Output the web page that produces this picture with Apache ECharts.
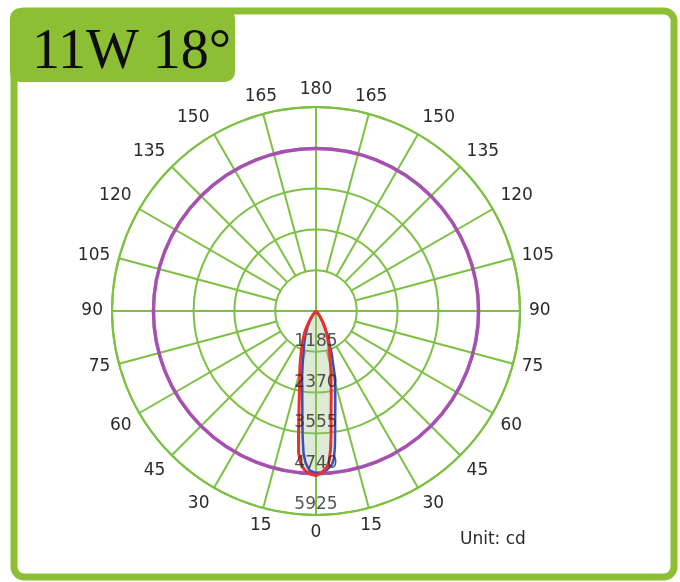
<!DOCTYPE html>
<html><head><meta charset="utf-8">
<script src="https://cdn.jsdelivr.net/npm/echarts@6/dist/echarts.min.js"></script>
<style>html,body{margin:0;padding:0;background:#fff}#c{width:680px;height:582px}</style>
</head><body><div id="c"></div>
<script>
// ---- data ----
const titleText = '11W 18\u00b0';
const unitText = 'Unit: cd';
const ringValues = [1185, 2370, 3555, 4740, 5925];
const spokeAngles = [0,15,30,45,60,75,90,105,120,135,150,165,180,195,210,225,240,255,270,285,300,315,330,345];
const angleTickLabels = ['0','15','30','45','60','75','90','105','120','135','150','165','180','165','150','135','120','105','90','75','60','45','30','15'];
const purpleValue = 4720;
// red curve: angle measured from 0 toward left side / right side
const redLeftAngles  = [0,2,4,5,6,7,8,9,10,12,14,16,18,20,24,28,32,36,40,45,50];
const redLeftValues  = [4780,4740,4640,4540,4400,4150,3650,3200,2850,2300,1950,1700,1450,1250,950,700,450,250,120,50,0];
const redRightAngles = [0,2,4,5,6,7,8,9,10,12,14,16,18,20,24,28,32,36,40,45];
const redRightValues = [4780,4700,4540,4380,4050,3600,3150,2800,2550,2100,1800,1500,1280,1100,800,550,350,180,80,0];
// blue curve
const blueLeftAngles  = [0,2,3,4,5,6,7,8,9,10,12,14,16,18,20,24,28,32,36,40,45];
const blueLeftValues  = [4700,4650,4550,4400,4150,3700,3250,2850,2550,2300,1950,1600,1350,1150,1000,750,520,330,180,80,0];
const blueRightAngles = [0,2,4,6,7,8,9,10,12,14,16,18,20,24,28,32,36,40,45];
const blueRightValues = [4700,4700,4620,4480,4300,3950,3550,3200,2700,2300,2000,1600,1350,900,600,380,200,90,0];

// ---- build ----
function curve(lA, lV, rA, rV) {
  const d = [];
  for (let i = lA.length - 1; i >= 0; i--) d.push([lV[i], lA[i]]);
  for (let i = 0; i < rA.length; i++) d.push([rV[i], 360 - rA[i]]);
  return d;
}
const redData = curve(redLeftAngles, redLeftValues, redRightAngles, redRightValues);
const blueData = curve(blueLeftAngles, blueLeftValues, blueRightAngles, blueRightValues);
const rMax = ringValues[ringValues.length - 1];
const spokeData = spokeAngles.map(a => [a % 90 === 0 ? 0 : ringValues[0], a]);

const GRID = '#7cc142';
const FRAME = '#8dbf34';
const chart = echarts.init(document.getElementById('c'));
chart.setOption({
  animation: false,
  backgroundColor: '#fff',
  polar: { center: [316, 311], radius: 204 },
  angleAxis: {
    type: 'value', min: 0, max: 360, interval: 15, startAngle: 270, clockwise: true,
    axisLine: { show: true, lineStyle: { color: GRID, width: 2 } },
    axisTick: { show: false },
    splitLine: { show: false },
    axisLabel: {
      margin: 9, color: '#2a2a2a', fontSize: 17, fontFamily: 'DejaVu Sans',
      formatter: v => { const i = spokeAngles.indexOf(v); return i >= 0 ? angleTickLabels[i] : ''; }
    }
  },
  radiusAxis: {
    type: 'value', min: 0, max: rMax, interval: ringValues[0],
    axisLine: { show: false }, axisTick: { show: false }, axisLabel: { show: false },
    splitLine: { show: true, lineStyle: { color: GRID, width: 2 } }
  },
  graphic: [
    { type: 'rect', z: 0, shape: { x: 14, y: 11, width: 660, height: 566, r: 10 },
      style: { fill: 'none', stroke: FRAME, lineWidth: 7 } },
    { type: 'rect', z: 1, shape: { x: 10, y: 8, width: 225, height: 74, r: 10 },
      style: { fill: FRAME } },
    { type: 'text', z: 2, style: { x: 32, y: 53, text: titleText, font: '56px "Liberation Serif"',
      fill: '#0d0d0d', verticalAlign: 'middle' } },
    { type: 'text', z: 2, style: { x: 460, y: 540, text: unitText, font: '17px "DejaVu Sans"',
      fill: '#2a2a2a', verticalAlign: 'middle' } }
  ],
  series: [
    { type: 'custom', coordinateSystem: 'polar', z: 1, silent: true, data: spokeData,
      renderItem: (params, api) => {
        const p1 = api.coord([api.value(0), api.value(1)]);
        const p2 = api.coord([rMax, api.value(1)]);
        return { type: 'line', shape: { x1: p1[0], y1: p1[1], x2: p2[0], y2: p2[1] },
          style: { stroke: GRID, lineWidth: 2 } };
      } },
    { type: 'line', coordinateSystem: 'polar', z: 2, data: redData, showSymbol: false,
      lineStyle: { width: 0 }, areaStyle: { color: 'rgba(150,190,125,0.45)' } },
    { type: 'custom', coordinateSystem: 'polar', z: 3, silent: true, data: [[purpleValue, 0]],
      renderItem: (params, api) => {
        const c = api.coord([0, 0]);
        const p = api.coord([api.value(0), 0]);
        return { type: 'circle', shape: { cx: c[0], cy: c[1], r: Math.hypot(p[0] - c[0], p[1] - c[1]) },
          style: { fill: 'none', stroke: '#a84fb4', lineWidth: 3.5 } };
      } },
    { type: 'line', coordinateSystem: 'polar', z: 4, data: blueData, showSymbol: false,
      lineStyle: { color: '#3a4cc0', width: 2.5 } },
    { type: 'line', coordinateSystem: 'polar', z: 5, data: redData, showSymbol: false,
      lineStyle: { color: '#e8322a', width: 3 } },
    { type: 'scatter', coordinateSystem: 'polar', z: 10, symbolSize: 0,
      data: ringValues.map(v => [v, 0]),
      label: { show: true, position: 'top', distance: 2, color: '#2a2a2a', fontSize: 17,
        fontFamily: 'DejaVu Sans', formatter: p => String(p.value[0]) } }
  ]
});
</script></body></html>
